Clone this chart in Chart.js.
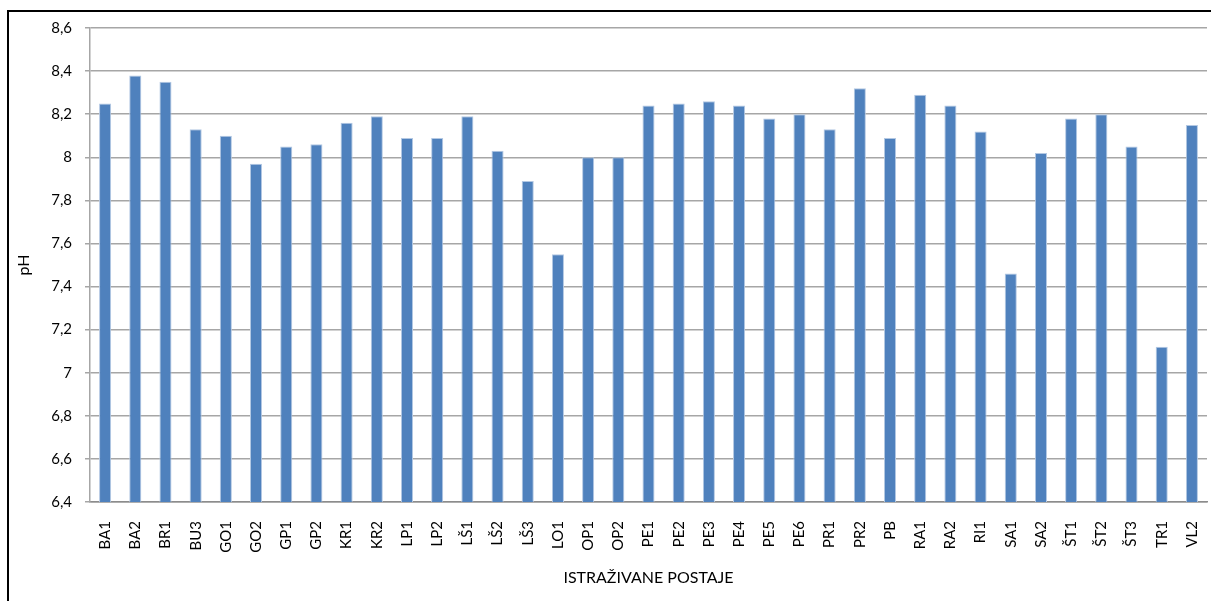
<!DOCTYPE html>
<html lang="hr">
<head>
<meta charset="UTF-8">
<title>pH - istraživane postaje</title>
<script src="https://cdn.jsdelivr.net/npm/chart.js@4"></script>
<style>
  * { margin: 0; padding: 0; box-sizing: border-box; }
  html, body { width: 1211px; height: 601px; overflow: hidden; background: #fff; }
  .frame { position: absolute; left: 7px; top: 10px; width: 1300px; height: 700px; border: 2px solid #000; }
  #chart { position: absolute; left: 0; top: 0; }
</style>
</head>
<body>
<div class="frame"></div>
<canvas id="chart" width="1211" height="601"></canvas>

<script>
// Stations on the x axis
const stations = ['BA1', 'BA2', 'BR1', 'BU3', 'GO1', 'GO2', 'GP1', 'GP2', 'KR1', 'KR2',
  'LP1', 'LP2', 'LŠ1', 'LŠ2', 'LŠ3', 'LO1', 'OP1', 'OP2',
  'PE1', 'PE2', 'PE3', 'PE4', 'PE5', 'PE6', 'PR1', 'PR2', 'PB',
  'RA1', 'RA2', 'RI1', 'SA1', 'SA2', 'ŠT1', 'ŠT2', 'ŠT3', 'TR1', 'VL2'];

// pH per station
const phValues = [8.25, 8.38, 8.35, 8.13, 8.10, 7.97, 8.05, 8.06, 8.16, 8.19,
  8.09, 8.09, 8.19, 8.03, 7.89, 7.55, 8.00, 8.00,
  8.24, 8.25, 8.26, 8.24, 8.18, 8.20, 8.13, 8.32, 8.09,
  8.29, 8.24, 8.12, 7.46, 8.02, 8.18, 8.20, 8.05, 7.12, 8.15];

// y axis range
const yMin = 6.4;
const yMax = 8.6;
const yStep = 0.2;

const font = 'Lato, "Open Sans", sans-serif';

new Chart(document.getElementById('chart'), {
  type: 'bar',
  data: {
    labels: stations,
    datasets: [{
      label: 'pH',
      data: phValues,
      backgroundColor: '#4f81bd',
      borderColor: '#b3c8e3',
      borderWidth: 1,
      categoryPercentage: 1,
      barPercentage: 0.4
    }]
  },
  options: {
    responsive: false,
    animation: false,
    layout: { padding: { top: 28, right: 4, left: 0, bottom: 0 } },
    plugins: { legend: { display: false }, tooltip: { enabled: false } },
    scales: {
      x: {
        grid: { display: false, drawTicks: false },
        border: { display: true, color: '#8c8c8c', width: 1.5 },
        ticks: {
          color: '#000',
          font: { family: font, size: 15 },
          minRotation: 90,
          maxRotation: 90,
          autoSkip: false,
          padding: 19
        },
        title: {
          display: true,
          text: 'ISTRAŽIVANE POSTAJE',
          color: '#000',
          font: { family: font, size: 16 },
          padding: { top: 4, bottom: 14 }
        },
        afterFit: s => { s.height = 99; s.paddingLeft = 0; s.paddingRight = 0; }
      },
      y: {
        min: yMin,
        max: yMax,
        grid: { color: '#a6a6a6', lineWidth: 1.5, tickLength: 5 },
        border: { display: true, color: '#a6a6a6', width: 1.5 },
        ticks: {
          stepSize: yStep,
          color: '#000',
          font: { family: font, size: 15 },
          padding: 13,
          callback: v => Number(v.toFixed(1)).toString().replace('.', ',')
        },
        title: {
          display: true,
          text: 'pH',
          color: '#000',
          font: { family: font, size: 16 },
          padding: { top: 14, bottom: 4 }
        },
        afterFit: s => { s.width = 90; s.paddingTop = 0; s.paddingBottom = 0; }
      }
    }
  }
});
</script>
</body>
</html>
